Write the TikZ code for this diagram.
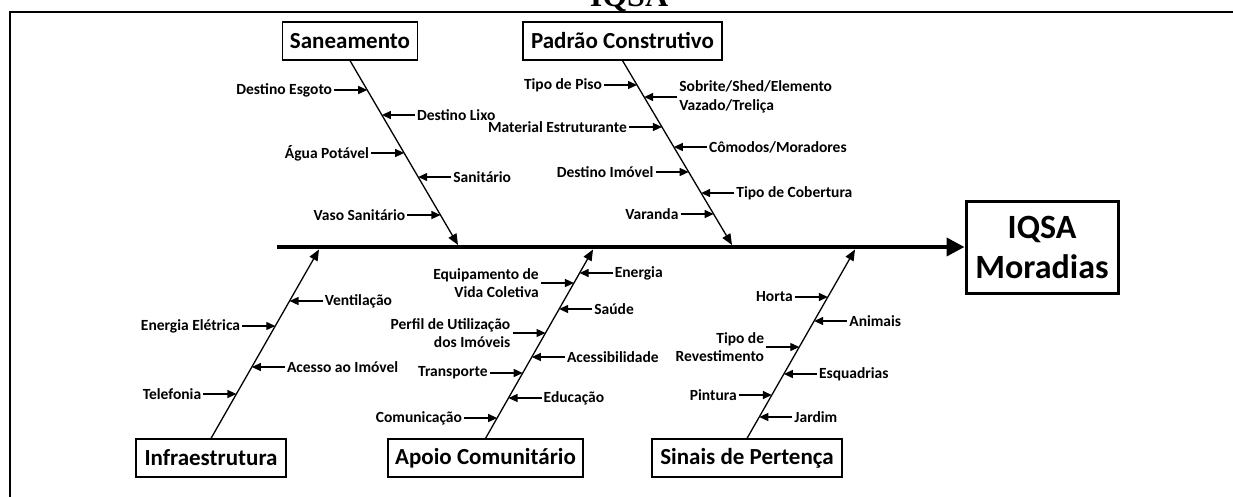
\documentclass[tikz,border=0pt]{standalone}
\usepackage{fontspec}
\setmainfont{Carlito}
\newfontfamily\titlefont{Liberation Serif}
\usetikzlibrary{arrows.meta,calc}
\newcommand\causeL[5]{%
  \coordinate (#1) at (intersection of #2--#3 and 0,#4--1000,#4);
  \node[lbl, align=right, anchor=east] (#1t) at ([xshift=-35pt]#1) {#5};
  \draw[sub] ([xshift=2pt]#1t.east) -- (#1);
}
\newcommand\causeR[5]{%
  \coordinate (#1) at (intersection of #2--#3 and 0,#4--1000,#4);
  \node[lbl, align=left, anchor=west] (#1t) at ([xshift=35pt]#1) {#5};
  \draw[sub] ([xshift=-2pt]#1t.west) -- (#1);
}
\begin{document}
\begin{tikzpicture}[x=1pt,y=-1pt,
  lbl/.style={font=\bfseries\fontsize{15.5}{18.5}\selectfont, inner sep=0pt},
  cbox/.style={draw, line width=1.2pt, font=\bfseries\fontsize{23}{27}\selectfont, inner sep=0pt, minimum height=38pt},
  bigbox/.style={draw, line width=3pt, font=\bfseries\fontsize{34}{40}\selectfont, align=center, inner sep=0pt, minimum width=152pt, minimum height=92pt},
  bone/.style={line width=1.3pt, -{Triangle[length=11pt,width=9pt]}},
  sub/.style={line width=1.3pt, -{Triangle[length=9pt,width=8pt]}},
  spine/.style={line width=4pt, -{Triangle[length=18pt,width=18pt]}},
  frame/.style={line width=2.5pt}]
\useasboundingbox (0,0) rectangle (1233,497);
% frame and title
\draw[frame] (10,505) -- (10,12) -- (1240,12);
\node[font=\titlefont\bfseries\fontsize{32}{36}\selectfont, anchor=base, inner sep=0pt] (title) at (629,7) {IQSA};
% boxes
\node[cbox, minimum width=135pt] (san) at (350,41) {Saneamento};
\node[cbox, minimum width=199pt] (pad) at (622.5,41) {Padrão Construtivo};
\node[cbox, minimum width=150pt] (inf) at (211,458) {Infraestrutura};
\node[cbox, minimum width=195pt] (apo) at (485.5,458) {Apoio Comunitário};
\node[cbox, minimum width=190pt] (sin) at (747,458) {Sinais de Pertença};
\node[bigbox] (iq) at (1042,247) {IQSA\\Moradias};
% spine
\coordinate (spL) at (277,247);
\draw[spine] (spL) -- (iq.west);
% bones
\coordinate (Sa) at (san.south); \coordinate (Sb) at (458,245);
\coordinate (Pa) at (pad.south); \coordinate (Pb) at (732,245);
\coordinate (Ia) at (inf.north); \coordinate (Ib) at (319,249.5);
\coordinate (Aa) at (apo.north); \coordinate (Ab) at (593,249.5);
\coordinate (Ta) at (sin.north); \coordinate (Tb) at (855,249.5);
\draw[bone] (Sa) -- (Sb);
\draw[bone] (Pa) -- (Pb);
\draw[bone] (Ia) -- (Ib);
\draw[bone] (Aa) -- (Ab);
\draw[bone] (Ta) -- (Tb);
% Saneamento
\causeL{s1}{Sa}{Sb}{90}{Destino Esgoto}
\causeR{s2}{Sa}{Sb}{115}{Destino Lixo}
\causeL{s3}{Sa}{Sb}{153}{Água Potável}
\causeR{s4}{Sa}{Sb}{177}{Sanitário}
\causeL{s5}{Sa}{Sb}{215}{Vaso Sanitário}
% Padrao
\causeL{p1}{Pa}{Pb}{85}{Tipo de Piso}
\causeR{p2}{Pa}{Pb}{97}{Sobrite/Shed/Elemento\\Vazado/Treliça}
\causeL{p3}{Pa}{Pb}{127}{Material Estruturante}
\causeR{p4}{Pa}{Pb}{147}{Cômodos/Moradores}
\causeL{p5}{Pa}{Pb}{172}{Destino Imóvel}
\causeR{p6}{Pa}{Pb}{193}{Tipo de Cobertura}
\causeL{p7}{Pa}{Pb}{214}{Varanda}
% Infraestrutura
\causeR{i1}{Ia}{Ib}{301}{Ventilação}
\causeL{i2}{Ia}{Ib}{326}{Energia Elétrica}
\causeR{i3}{Ia}{Ib}{367}{Acesso ao Imóvel}
\causeL{i4}{Ia}{Ib}{394}{Telefonia}
% Apoio
\causeR{a1}{Aa}{Ab}{273}{Energia}
\causeL{a2}{Aa}{Ab}{283}{Equipamento de\\Vida Coletiva}
\causeR{a3}{Aa}{Ab}{309}{Saúde}
\causeL{a4}{Aa}{Ab}{333}{Perfil de Utilização\\dos Imóveis}
\causeR{a5}{Aa}{Ab}{357}{Acessibilidade}
\causeL{a6}{Aa}{Ab}{373}{Transporte}
\causeR{a7}{Aa}{Ab}{398}{Educação}
\causeL{a8}{Aa}{Ab}{418}{Comunicação}
% Sinais
\causeL{t1}{Ta}{Tb}{297}{Horta}
\causeR{t2}{Ta}{Tb}{321}{Animais}
\causeL{t3}{Ta}{Tb}{347}{Tipo de\\Revestimento}
\causeR{t4}{Ta}{Tb}{374}{Esquadrias}
\causeL{t5}{Ta}{Tb}{395}{Pintura}
\causeR{t6}{Ta}{Tb}{417}{Jardim}
\end{tikzpicture}
\end{document}
